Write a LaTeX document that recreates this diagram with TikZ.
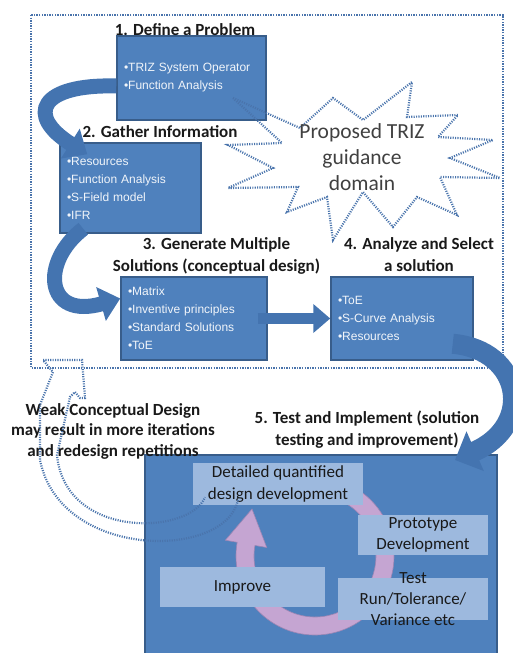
\documentclass[tikz,border=0pt]{standalone}
\usepackage{fontspec}
\setmainfont{Carlito}
\newfontfamily\bulletfont{Liberation Sans}
\usetikzlibrary{arrows.meta, positioning}

\definecolor{stepblue}{HTML}{4F81BD}
\definecolor{stepedge}{HTML}{385D8A}
\definecolor{flowblue}{HTML}{4474B0}
\definecolor{dotblue}{HTML}{4A74AC}
\definecolor{paleblue}{HTML}{9DB9DE}
\definecolor{loopmauve}{HTML}{C5A5D2}
\definecolor{loopedge}{HTML}{9C86B4}

\begin{document}
\begin{tikzpicture} % one unit is one pixel of the original slide, y runs downwards
    [x = 1pt, y = -1pt,
      stepbox/.style={rectangle, fill = stepblue, draw = stepedge, line width = 1.5pt,
        inner xsep = 7pt, inner ysep = 4pt, align = left, text = white!92!stepblue,
        font = \bulletfont\fontsize{12}{18}\selectfont},
      steptitle/.style={anchor = base, align = center, text = black!90,
        font = \bfseries\fontsize{17}{21.5}\selectfont},
      palebox/.style={rectangle, fill = paleblue, inner sep = 0pt, align = center,
        text = black!90, font = \fontsize{17}{21.5}\selectfont},
      dotline/.style={dotblue, line width = 2.2pt, dash pattern = on 1.1pt off 1.3pt},
      flowarrow/.style={flowblue, line width = 15pt},
      notetext/.style={anchor = base, align = center, text = black!90,
        font = \bfseries\fontsize{17}{20.5}\selectfont}]
    \useasboundingbox (0,0) rectangle (512,653);

    % the dotted frame round the conceptual part
    \draw[dotline, line width = 2.8pt, dash pattern = on 1.4pt off 1.2pt] (31,15) rectangle (503,368);

    % the four conceptual steps
    \node[stepbox, text width = 135pt, minimum height = 84pt] (define) at (191.5,78)
      {•TRIZ System Operator\\•Function Analysis};
    \node[stepbox, text width = 127pt, minimum height = 90pt] (gather) at (130.5,188)
      {•Resources\\•Function Analysis\\•S-Field model\\•IFR};
    \node[stepbox, text width = 132pt, minimum height = 83pt] (generate) at (194,318.5)
      {•Matrix\\•Inventive principles\\•Standard Solutions\\•ToE};
    \node[stepbox, text width = 128pt, minimum height = 83pt] (select) at (402,318.5)
      {•ToE\\•S-Curve Analysis\\•Resources};

    % a title of two lines sits on the baseline of its last line
    \node[steptitle] (definetitle) at ([xshift = -6.5pt]define.north) {1. Define a Problem};
    \node[steptitle] (gathertitle) at ([shift = {(29.5,-4.5)}]gather.north) {2. Gather Information};
    \node[steptitle] (generatetitle) at ([shift = {(22.5,-5)}]generate.north)
      {3. Generate Multiple\\Solutions (conceptual design)};
    \node[steptitle] (selecttitle) at ([shift = {(17,-5)}]select.north)
      {4. Analyze and Select\\a solution};

    % the starburst is only dotted, the box under its tip stays visible
    \draw[dotline] (233,98) -- (300,128) -- (333,98) -- (363,120) -- (412,82) -- (407,117)
      -- (458,115) -- (438,137) -- (493,140) -- (450,158) -- (500,178) -- (440,177)
      -- (457,215) -- (417,197) -- (393,227) -- (363,192) -- (333,240) -- (327,197)
      -- (287,212) -- (298,187) -- (228,188) -- (273,168) -- (228,145) -- (282,143) -- cycle;
    \node[align = center, text = black!75, font = \fontsize{21.5}{26}\selectfont]
      (guidance) at (362,157) {Proposed TRIZ\\guidance\\domain};

    % block arrows between the steps
    \draw[flowarrow, -{Triangle[width = 34pt, length = 20pt]}]
      ([yshift = -8pt]define.west) .. controls (40,84) and (25,115) .. ([shift = {(28,12)}]gather.north west);
    \draw[flowarrow, -{Triangle[width = 34pt, length = 20pt]}]
      ([shift = {(24,-5)}]gather.south west) .. controls (40,262) and (45,320) .. ([yshift = 20pt]generate.west);
    \draw[flowarrow, line width = 11pt, -{Triangle[width = 28pt, length = 17pt]}]
      ([xshift = -10pt]generate.east) -- (select.west);

    % test and implement
    \node[rectangle, fill = stepblue, draw = stepedge, line width = 1.5pt,
      minimum width = 352pt, minimum height = 205pt] (implement) at (321,557.5) {};
    \node[steptitle] (implementtitle) at ([shift = {(46,-9)}]implement.north)
      {5. Test and Implement (solution\\testing and improvement)};
    \draw[flowarrow, line width = 20pt, -{Triangle[width = 42pt, length = 22pt]}]
      ([shift = {(-21,-17)}]select.south east) .. controls (522,350) and (535,425) .. (455,460);

    % the improvement loop runs under the pale boxes
    \coordinate (loopcentre) at (315,556);
    \filldraw[fill = loopmauve, draw = loopedge, line width = 0.6pt]
      ([shift = {(loopcentre)}]-60:79) arc[start angle = -60, end angle = 190, radius = 79]
      -- ([shift = {(loopcentre)}]190:91) -- ([shift = {(-63,-47)}]loopcentre)
      -- ([shift = {(loopcentre)}]190:49) -- ([shift = {(loopcentre)}]190:61)
      arc[start angle = 190, end angle = -60, radius = 61] -- cycle;

    \node[palebox, minimum width = 170pt, minimum height = 42pt] (detail) at (278,484)
      {Detailed quantified\\design development};
    \node[palebox, minimum width = 130pt, minimum height = 40pt] (prototype) at (423,535)
      {Prototype\\Development};
    \node[palebox, minimum width = 165pt, minimum height = 40pt] (improve) at (242.5,587)
      {Improve};
    % the text of this one is taller than its box
    \node[palebox, minimum width = 150pt, minimum height = 42pt] (testbox) at (413,599) {};
    \node[align = center, text = black!90, font = \fontsize{17}{21}\selectfont]
      (testtext) at (testbox.center) {Test\\Run/Tolerance/\\Variance etc};

    % weak conceptual design sends the work back up
    \node[notetext] (weak) at (113,456)
      {Weak Conceptual Design\\may result in more iterations\\and redesign repetitions};
    \draw[dotline] ([shift = {(-40,-5)}]detail.south) .. controls (225,560) and (60,560) .. (40,460)
      -- (40,405) -- (53,372) -- (43,360) -- (82,360) -- (85,398) -- (80,398) -- (75,392)
      -- (70,397) -- (57,455) .. controls (65,540) and (190,535) .. ([shift = {(-73,-8)}]detail.south);
\end{tikzpicture}
\end{document}
